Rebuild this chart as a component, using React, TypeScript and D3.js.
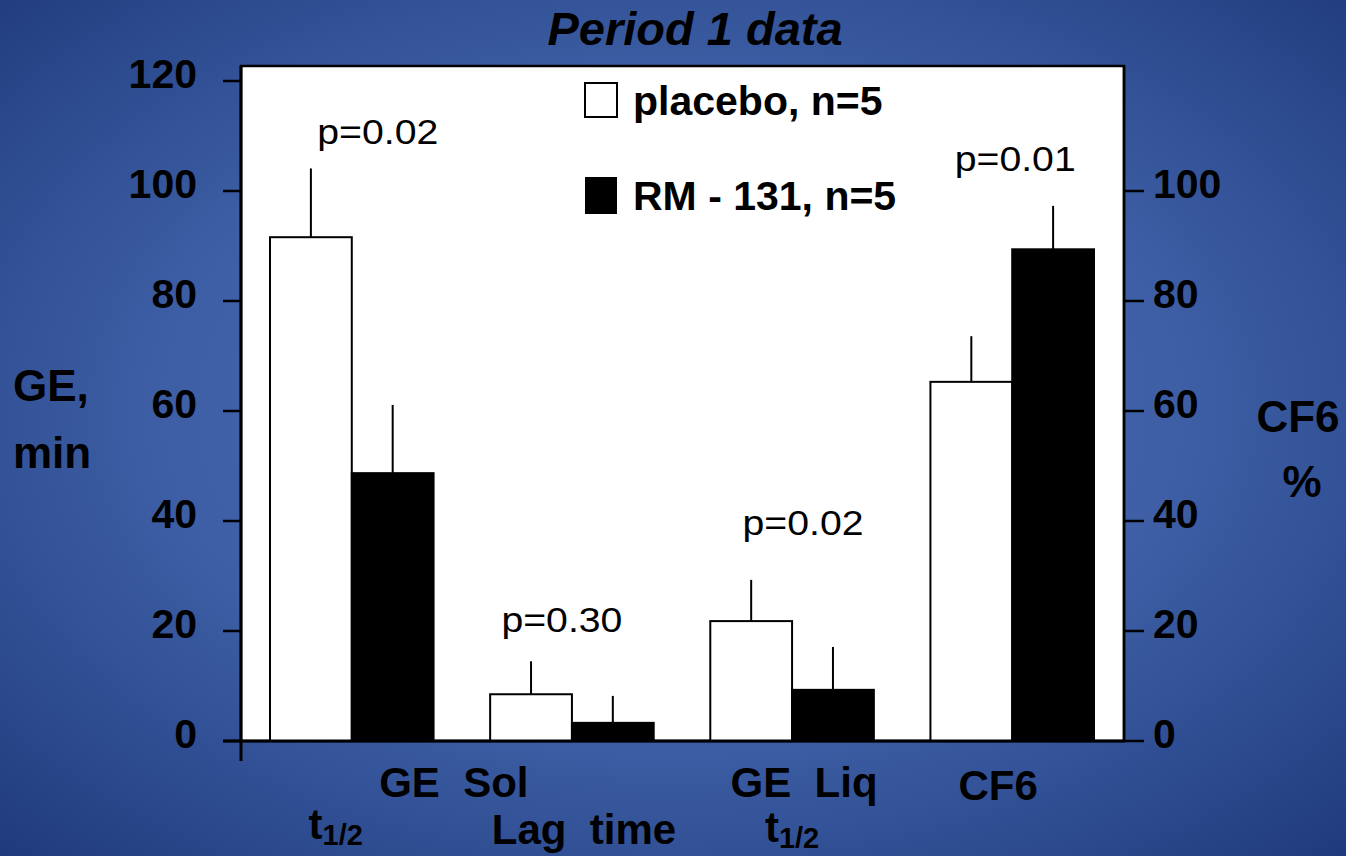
import * as d3 from "d3";
import React from "react";

// chart values
const categories = ["GE Sol t1/2", "GE Sol Lag time", "GE Liq t1/2", "CF6"];
const seriesNames = ["placebo, n=5", "RM - 131, n=5"];
const placeboMean = [91.6, 8.5, 21.8, 65.3];
const placeboErr = [12.5, 6.0, 7.5, 8.3];
const rm131Mean = [48.7, 3.3, 9.3, 89.4];
const rm131Err = [12.4, 4.9, 7.8, 7.9];
const pValues = ["p=0.02", "p=0.30", "p=0.02", "p=0.01"];
const leftTicks = [0, 20, 40, 60, 80, 100, 120];
const rightTicks = [0, 20, 40, 60, 80, 100];

const W = 1346;
const H = 856;
const FONT = "'Liberation Sans', Arial, Helvetica, sans-serif";
const SP = "\u00a0 "; // wide gap used on the slide labels

export default function App() {
  const panel = { left: 241, right: 1124, top: 66 };

  const y = d3.scaleLinear().domain([0, 120]).range([741, 81]);
  const yRight = d3.scaleLinear().domain([0, 120]).range([741, 81]);

  const x = d3.scaleBand().domain(categories).range([270, 1094]).paddingInner(0.257).paddingOuter(0);
  const xs = d3.scaleBand().domain(seriesNames).range([0, x.bandwidth()]).padding(0);
  const fill = d3.scaleOrdinal<string, string>().domain(seriesNames).range(["#ffffff", "#000000"]);

  const rows = categories.map((c, i) => ({
    cat: c,
    p: pValues[i],
    values: [
      { s: seriesNames[0], mean: placeboMean[i], err: placeboErr[i] },
      { s: seriesNames[1], mean: rm131Mean[i], err: rm131Err[i] },
    ],
  }));

  const mid = (c: string) => (x(c) as number) + x.bandwidth() / 2;

  // p-label placement tweaks (px above highest whisker, x shift)
  const pLift = [24, 29, 45, 35];
  const pShift = [26, -10, 11, 3];

  return (
    <svg width={W} height={H} style={{ position: "absolute", left: 0, top: 0, display: "block" }} fontFamily={FONT}>
      <defs>
        <radialGradient id="bg" cx="50%" cy="48%" r="75%">
          <stop offset="0%" stopColor="#4a6bb2" />
          <stop offset="50%" stopColor="#3e5fa6" />
          <stop offset="100%" stopColor="#1d3879" />
        </radialGradient>
      </defs>
      <rect x={0} y={0} width={W} height={H} fill="url(#bg)" />

      {/* title */}
      <text x={695} y={45} textAnchor="middle" fontSize={47} fontWeight="bold" fontStyle="italic">
        Period 1 data
      </text>

      {/* plot panel */}
      <rect x={panel.left} y={panel.top} width={panel.right - panel.left} height={y(0) - panel.top}
        fill="#ffffff" stroke="#000" strokeWidth={2.5} />

      {/* bars */}
      {rows.map((r) => (
        <g key={r.cat} transform={`translate(${x(r.cat)},0)`}>
          {r.values.map((v) => (
            <g key={v.s}>
              <line x1={(xs(v.s) as number) + xs.bandwidth() / 2} x2={(xs(v.s) as number) + xs.bandwidth() / 2}
                y1={y(v.mean)} y2={y(v.mean + v.err)} stroke="#000" strokeWidth={2} />
              <rect x={xs(v.s)} y={y(v.mean)} width={xs.bandwidth()} height={y(0) - y(v.mean)}
                fill={fill(v.s)} stroke="#000" strokeWidth={2} />
            </g>
          ))}
        </g>
      ))}

      {/* p values */}
      {rows.map((r, i) => {
        const top = d3.max(r.values, (v) => v.mean + v.err) as number;
        return (
          <text key={"p" + i} x={mid(r.cat) + pShift[i]} y={y(top) - pLift[i]} textAnchor="middle"
            fontSize={35} textLength={121} lengthAdjust="spacingAndGlyphs">
            {r.p}
          </text>
        );
      })}

      {/* axes */}
      <line x1={panel.left} x2={panel.left} y1={panel.top} y2={761} stroke="#000" strokeWidth={3} />
      <line x1={223} x2={panel.right} y1={y(0)} y2={y(0)} stroke="#000" strokeWidth={3} />
      <line x1={panel.right} x2={panel.right} y1={panel.top} y2={y(0)} stroke="#000" strokeWidth={2.5} />
      {leftTicks.map((t) => (
        <g key={"l" + t}>
          <line x1={223} x2={panel.left} y1={y(t)} y2={y(t)} stroke="#000" strokeWidth={2.5} />
          <text x={197} y={y(t) + 7} textAnchor="end" fontSize={41} fontWeight="bold">{t}</text>
        </g>
      ))}
      {rightTicks.map((t) => (
        <g key={"r" + t}>
          <line x1={panel.right} x2={1144} y1={yRight(t)} y2={yRight(t)} stroke="#000" strokeWidth={2.5} />
          <text x={1153} y={yRight(t) + 7} textAnchor="start" fontSize={41} fontWeight="bold">{t}</text>
        </g>
      ))}

      {/* axis titles */}
      <text x={13} y={401} fontSize={44} fontWeight="bold">GE,</text>
      <text x={13} y={468} fontSize={44} fontWeight="bold">min</text>
      <text x={1298} y={432} textAnchor="middle" fontSize={44} fontWeight="bold">CF6</text>
      <text x={1302} y={497} textAnchor="middle" fontSize={44} fontWeight="bold">%</text>

      {/* legend */}
      <rect x={585} y={83} width={32} height={34} fill={fill(seriesNames[0])} stroke="#000" strokeWidth={2} />
      <text x={633} y={115} fontSize={41} fontWeight="bold">{seriesNames[0]}</text>
      <rect x={585} y={177} width={32} height={37} fill={fill(seriesNames[1])} />
      <text x={633} y={210} fontSize={41} fontWeight="bold">{seriesNames[1]}</text>

      {/* category labels */}
      <g fontSize={42} fontWeight="bold" textAnchor="middle">
        <text x={(mid(categories[0]) + mid(categories[1])) / 2 - 8} y={797}>{"GE" + SP + "Sol"}</text>
        <text x={mid(categories[0]) - 16} y={839}>
          t<tspan fontSize={29} dy={6}>1/2</tspan>
        </text>
        <text x={mid(categories[1]) + 12} y={844}>{"Lag" + SP + "time"}</text>
        <text x={mid(categories[2]) + 12} y={797}>{"GE" + SP + "Liq"}</text>
        <text x={mid(categories[2]) + 0} y={842}>
          t<tspan fontSize={29} dy={6}>1/2</tspan>
        </text>
        <text x={mid(categories[3]) - 14} y={800}>CF6</text>
      </g>
    </svg>
  );
}
